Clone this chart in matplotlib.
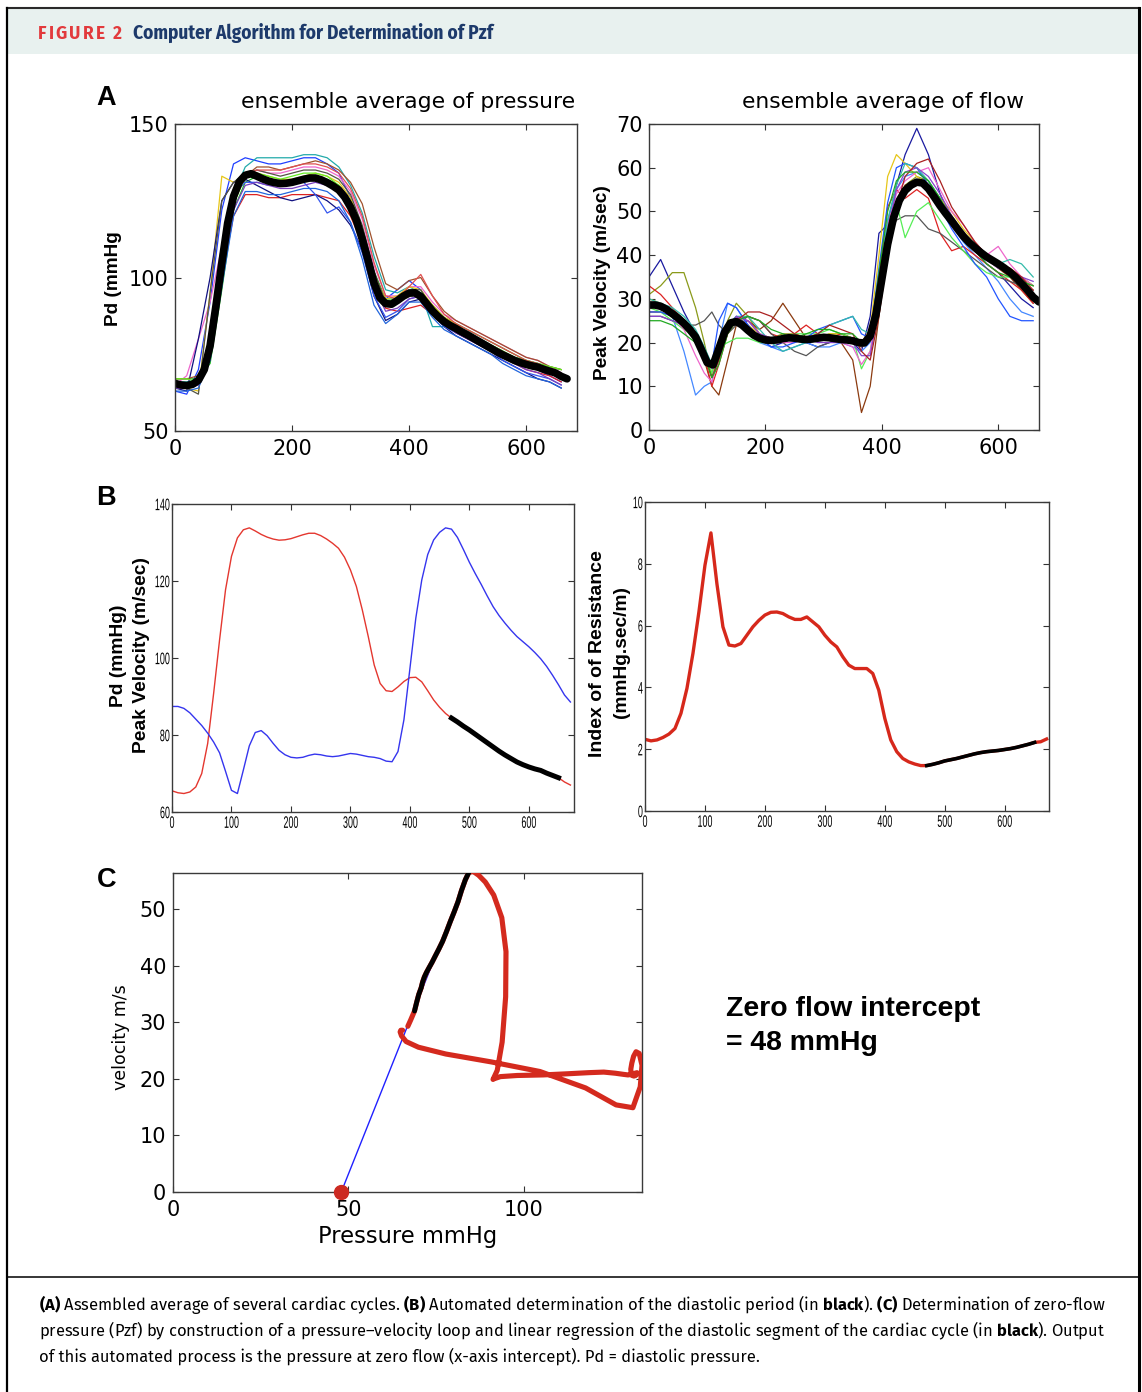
import numpy as np
import matplotlib
matplotlib.use("Agg")
import matplotlib.pyplot as plt
from matplotlib import font_manager
from matplotlib.patches import Rectangle
from matplotlib.lines import Line2D
from matplotlib.patheffects import AbstractPathEffect
from matplotlib.transforms import Affine2D

# ---------------------------------------------------------------- data
# ensemble averages sampled every 10 ms (0 .. 670)
time_mean = list(range(0, 680, 10))
pressure_mean = [65.5, 65.0, 64.8, 65.2, 66.5, 70.0, 77.8, 90.8, 104.7, 117.7,
                 126.4, 131.2, 133.3, 133.8, 133.0, 132.1, 131.4, 130.9, 130.6, 130.7,
                 131.0, 131.5, 132.0, 132.4, 132.4, 131.8, 130.9, 129.8, 128.5, 126.2,
                 122.9, 118.6, 112.5, 105.6, 98.2, 93.4, 91.5, 91.3, 92.5, 93.9,
                 94.9, 95.0, 93.8, 91.5, 89.1, 87.2, 85.6, 84.4, 83.4, 82.3,
                 81.3, 80.2, 79.1, 78.0, 76.9, 75.8, 74.8, 73.9, 73.0, 72.3,
                 71.7, 71.2, 70.8, 70.1, 69.5, 68.9, 67.8, 67.0]
velocity_mean = [28.6, 28.6, 28.3, 27.6, 26.6, 25.6, 24.4, 23.0, 21.3, 18.4,
                 15.4, 14.9, 18.6, 22.4, 24.5, 24.8, 24.0, 22.8, 21.7, 21.0,
                 20.6, 20.5, 20.6, 20.9, 21.1, 21.0, 20.8, 20.7, 20.8, 21.0,
                 21.2, 21.1, 20.9, 20.7, 20.6, 20.4, 20.0, 19.9, 21.5, 26.5,
                 34.5, 42.5, 48.5, 52.5, 54.8, 56.0, 56.7, 56.5, 55.2, 53.3,
                 51.3, 49.5, 47.8, 46.0, 44.3, 42.9, 41.7, 40.6, 39.6, 38.8,
                 38.0, 37.1, 36.1, 34.9, 33.5, 32.0, 30.4, 29.3]
resistance = [2.32, 2.27, 2.30, 2.38, 2.49, 2.67, 3.16, 3.97, 5.10, 6.45,
              7.95, 9.00, 7.35, 5.96, 5.37, 5.34, 5.42, 5.69, 5.96, 6.17,
              6.34, 6.43, 6.44, 6.39, 6.28, 6.20, 6.20, 6.28, 6.12, 5.96,
              5.69, 5.47, 5.31, 4.99, 4.72, 4.61, 4.61, 4.61, 4.45, 3.91,
              3.00, 2.30, 1.92, 1.70, 1.59, 1.52, 1.47, 1.47, 1.51, 1.56,
              1.62, 1.66, 1.70, 1.75, 1.80, 1.85, 1.89, 1.92, 1.94, 1.96,
              1.99, 2.02, 2.06, 2.11, 2.16, 2.22, 2.24, 2.33]

# individual cardiac cycles (pressure), sampled every 20 ms (0 .. 660)
time_p_traces = list(range(0, 680, 20))
pressure_traces = [
    [63, 62, 70, 92, 122, 137, 139, 138, 137, 137, 138, 139, 139, 137, 134, 126, 114, 99, 93, 96, 99, 96, 90, 86, 84, 82, 80, 77, 75, 73, 71, 70, 68, 66],
    [67, 67, 67, 72, 96, 122, 131, 133, 132, 131, 131, 132, 133, 132, 130, 125, 116, 102, 93, 93, 96, 95, 91, 87, 85, 83, 81, 79, 77, 75, 73, 72, 71, 70],
    [64, 64, 65, 75, 100, 120, 127, 127, 126, 126, 127, 127, 127, 126, 125, 120, 111, 97, 90, 89, 90, 91, 88, 85, 82, 80, 78, 76, 74, 72, 70, 69, 68, 66],
    [66, 66, 67, 76, 103, 127, 136, 139, 139, 139, 139, 140, 140, 139, 136, 130, 121, 107, 96, 95, 97, 95, 84, 84, 83, 82, 80, 78, 76, 74, 73, 72, 70, 68],
    [65, 68, 80, 92, 110, 128, 134, 135, 134, 134, 135, 136, 136, 135, 133, 128, 119, 104, 94, 94, 97, 97, 92, 88, 86, 84, 82, 80, 78, 76, 74, 73, 71, 69],
    [65, 64, 63, 95, 133, 131, 133, 134, 133, 132, 132, 133, 134, 133, 131, 126, 116, 101, 93, 94, 97, 96, 91, 87, 85, 82, 80, 78, 76, 74, 72, 71, 70, 68],
    [64, 63, 80, 100, 125, 131, 132, 130, 128, 126, 125, 126, 127, 125, 122, 117, 109, 94, 86, 88, 92, 93, 88, 84, 81, 79, 77, 75, 73, 71, 69, 67, 66, 64],
    [66, 65, 66, 80, 108, 127, 131, 131, 130, 130, 131, 131, 127, 121, 123, 118, 108, 94, 87, 89, 93, 94, 88, 84, 82, 80, 78, 76, 73, 71, 69, 68, 67, 65],
    [66, 64, 62, 95, 125, 131, 134, 135, 134, 133, 134, 135, 135, 134, 132, 127, 117, 102, 92, 93, 96, 96, 90, 86, 84, 82, 80, 78, 76, 74, 72, 71, 69, 67],
    [64, 64, 65, 74, 100, 122, 130, 131, 130, 129, 129, 130, 131, 130, 128, 122, 112, 97, 89, 90, 93, 94, 89, 85, 82, 80, 78, 76, 74, 72, 70, 69, 67, 65],
    [67, 67, 68, 76, 101, 124, 133, 136, 136, 135, 136, 137, 138, 137, 135, 131, 124, 110, 98, 96, 99, 100, 94, 89, 86, 84, 82, 80, 78, 76, 74, 73, 71, 70],
    [67, 67, 66, 74, 99, 124, 133, 134, 133, 132, 133, 134, 134, 133, 130, 124, 113, 99, 92, 93, 95, 95, 90, 86, 84, 82, 80, 78, 76, 74, 73, 72, 71, 70],
    [63, 63, 64, 73, 97, 120, 128, 128, 127, 127, 128, 129, 129, 128, 125, 118, 106, 91, 85, 88, 92, 92, 87, 83, 81, 79, 77, 75, 72, 70, 68, 67, 66, 64],
    [65, 65, 66, 78, 104, 126, 133, 135, 135, 135, 136, 137, 137, 136, 134, 129, 120, 105, 94, 93, 97, 101, 94, 88, 85, 83, 81, 79, 77, 75, 73, 72, 70, 68],
]
pressure_trace_colors = ['#1f3fff', '#22bb22', '#dd2222', '#22aaaa', '#ee66cc', '#e6c619', '#101080',
                         '#3355ee', '#555544', '#7a3fbf', '#a0522d', '#66ee22', '#2266dd', '#e05050']

# individual cardiac cycles (velocity)
time_v_traces = [0, 20, 40, 60, 80, 95, 108, 120, 135, 150, 170, 190, 210, 230, 250, 270, 290, 310, 330,
                 350, 365, 380, 395, 410, 425, 440, 460, 480, 500, 520, 540, 560, 580, 600, 620, 640, 660]
velocity_traces = [
    [35, 39, 33, 27, 22, 18, 12, 17, 24, 26, 24, 21, 19, 20, 21, 20, 19, 20, 21, 20, 18, 26, 45, 47, 56, 63, 69, 63, 54, 48, 44, 41, 38, 36, 33, 30, 28],
    [31, 33, 36, 36, 28, 20, 12, 16, 25, 29, 26, 22, 21, 22, 22, 21, 21, 22, 22, 21, 20, 22, 32, 45, 52, 56, 58, 57, 53, 49, 45, 42, 40, 38, 37, 35, 33],
    [27, 27, 26, 24, 21, 16, 10, 8, 16, 24, 25, 23, 25, 29, 25, 21, 22, 21, 20, 16, 4, 10, 26, 42, 52, 56, 57, 56, 52, 47, 44, 41, 39, 37, 35, 32, 29],
    [29, 28, 26, 18, 8, 10, 11, 20, 29, 28, 24, 20, 19, 18, 19, 20, 19, 19, 20, 19, 18, 20, 34, 48, 55, 58, 59, 57, 52, 47, 43, 40, 37, 34, 30, 27, 26],
    [30, 29, 27, 25, 22, 18, 13, 17, 23, 25, 24, 22, 21, 21, 22, 21, 21, 22, 22, 21, 20, 23, 40, 58, 63, 61, 58, 56, 53, 50, 46, 43, 40, 38, 37, 35, 33],
    [33, 31, 28, 25, 22, 17, 10, 15, 22, 25, 26, 25, 22, 21, 22, 24, 22, 21, 22, 21, 19, 22, 35, 51, 55, 53, 55, 53, 45, 41, 42, 40, 38, 36, 34, 32, 29],
    [26, 26, 25, 24, 24, 25, 27, 24, 22, 24, 26, 25, 22, 20, 18, 17, 19, 20, 21, 20, 19, 21, 33, 44, 48, 49, 49, 46, 45, 43, 41, 39, 37, 35, 34, 33, 32],
    [28, 27, 25, 23, 21, 18, 13, 19, 20, 21, 21, 20, 20, 21, 22, 22, 22, 23, 22, 21, 14, 18, 30, 46, 52, 44, 50, 52, 48, 44, 41, 38, 36, 35, 35, 34, 33],
    [29, 28, 26, 23, 17, 13, 11, 16, 23, 26, 25, 22, 21, 20, 20, 21, 21, 21, 20, 19, 15, 18, 30, 47, 54, 57, 59, 60, 55, 50, 47, 43, 40, 42, 38, 35, 33],
    [27, 27, 26, 25, 22, 18, 15, 25, 29, 28, 24, 21, 19, 19, 20, 21, 23, 24, 25, 26, 22, 21, 37, 52, 60, 61, 60, 56, 51, 46, 42, 38, 35, 30, 26, 25, 25],
    [30, 29, 28, 26, 23, 19, 15, 18, 24, 26, 26, 23, 20, 18, 19, 20, 22, 24, 25, 26, 23, 22, 33, 48, 56, 61, 60, 57, 53, 48, 44, 41, 39, 38, 39, 38, 35],
    [26, 26, 25, 24, 22, 18, 14, 17, 23, 26, 25, 22, 21, 21, 21, 21, 20, 20, 20, 20, 17, 17, 28, 45, 55, 59, 60, 58, 54, 49, 45, 42, 39, 37, 36, 35, 34],
    [28, 28, 27, 25, 22, 17, 12, 16, 22, 25, 27, 27, 26, 24, 22, 21, 22, 24, 23, 22, 18, 16, 26, 40, 51, 58, 61, 62, 57, 51, 47, 43, 40, 38, 37, 35, 32],
    [25, 25, 24, 22, 20, 17, 12, 15, 22, 25, 26, 25, 23, 22, 21, 22, 23, 23, 22, 22, 20, 21, 36, 50, 57, 59, 59, 57, 53, 48, 44, 41, 38, 36, 35, 34, 33],
]
velocity_trace_colors = ['#1a1aa0', '#8a9a1a', '#8b3a0f', '#4488ff', '#e6c619', '#dd2222', '#555555',
                         '#55ee55', '#ee66cc', '#2255ff', '#33bbaa', '#8844cc', '#aa2020', '#22aa22']

diastole = (470, 650)        # automatically detected diastolic window (ms)
pzf = 48                     # zero-flow pressure (mmHg)

# ---------------------------------------------------------------- fonts
installed = {f.name for f in font_manager.fontManager.ttflist}


def pick(*names):
    for n in names:
        if n in installed:
            return n
    return 'DejaVu Sans'


ARIAL = pick('Liberation Sans', 'Arimo')
CAPTION = pick('Fira Sans', 'Roboto', 'Open Sans')
HEAD = pick('Fira Sans Condensed', 'Roboto', 'Noto Sans')
plt.rcParams['mathtext.fontset'] = 'custom'
plt.rcParams['mathtext.rm'] = CAPTION
plt.rcParams['mathtext.bf'] = CAPTION + ':bold'
plt.rcParams['mathtext.it'] = CAPTION + ':italic'


class Stretch(AbstractPathEffect):
    """Draw text glyphs scaled (tall / narrow like the MATLAB export)."""

    def __init__(self, sx, sy, hx, hy):
        super().__init__()
        self.sx, self.sy, self.hx, self.hy = sx, sy, hx, hy

    def draw_path(self, renderer, gc, tpath, affine, rgbFace=None):
        ext = tpath.get_extents(affine)
        x0 = (ext.x0 + ext.x1) / 2 if self.hx == 'center' else ext.x1
        y0 = (ext.y0 + ext.y1) / 2 if self.hy == 'center' else ext.y1
        tr = affine + Affine2D().translate(-x0, -y0).scale(self.sx, self.sy).translate(x0, y0)
        renderer.draw_path(gc, tpath, tr, rgbFace)


# ---------------------------------------------------------------- figure
W, H = 1142, 1392
fig = plt.figure(figsize=(W / 100, H / 100), dpi=100)
fig.patch.set_facecolor('white')
renderer = fig.canvas.get_renderer()


def fx(x):
    return x / W


def fy(y):
    return 1 - y / H


def ftext(x, y, s, target=None, **kw):
    t = fig.text(fx(x), fy(y), s, **kw)
    if target:
        bb = t.get_window_extent(renderer)
        rot = kw.get('rotation', 0)
        size = bb.height if rot == 90 else bb.width
        t.set_fontsize(t.get_fontsize() * target / size)
    return t


def add_ax(x0, y0, x1, y1):
    return fig.add_axes([fx(x0), fy(y1), (x1 - x0) / W, (y1 - y0) / H])


def style(ax, family, size, padx, pady, length):
    ax.tick_params(direction='in', top=True, right=True, length=length, width=0.8,
                   color='#333333', labelsize=size, labelfontfamily=family)
    ax.tick_params(axis='x', pad=padx)
    ax.tick_params(axis='y', pad=pady)
    for s in ax.spines.values():
        s.set_color('#3a3a3a')
        s.set_linewidth(1.0)


def squeeze_ticks(ax):
    for tk in ax.xaxis.get_major_ticks():
        tk.label1.set_path_effects([Stretch(0.86, 1.6, 'center', 'top')])
    for tk in ax.yaxis.get_major_ticks():
        tk.label1.set_path_effects([Stretch(0.86, 1.6, 'right', 'center')])


# frame / header
fig.add_artist(Rectangle((fx(8), fy(54)), (1138 - 8) / W, (54 - 9) / H, transform=fig.transFigure,
                         facecolor='#e8f1ef', edgecolor='none', zorder=0))
fig.add_artist(Line2D([fx(7), fx(1139)], [fy(8), fy(8)], transform=fig.transFigure, color='#2a2a2a', lw=1.5))
fig.add_artist(Line2D([fx(7), fx(7)], [fy(8), 0], transform=fig.transFigure, color='black', lw=1.6))
fig.add_artist(Line2D([fx(1138.5), fx(1138.5)], [fy(8), 0], transform=fig.transFigure, color='black', lw=2.2))
fig.add_artist(Line2D([fx(7), fx(1139)], [fy(1277), fy(1277)], transform=fig.transFigure, color='black', lw=1.1))

# "FIGURE 2" with letter spacing
head_chars = list("FIGURE 2")
HSIZE = 12.5
tmp = [fig.text(0, 0, c if c != ' ' else 'a', fontsize=HSIZE, family=CAPTION, weight='bold') for c in head_chars]
widths = [t.get_window_extent(renderer).width for t in tmp]
for t in tmp:
    t.remove()
widths = [w * (0.45 if c == ' ' else 1) for w, c in zip(widths, head_chars)]
gap = (84 - sum(widths)) / (len(head_chars) - 1)
xc = 38
for c, w in zip(head_chars, widths):
    if c != ' ':
        ftext(xc, 39, c, fontsize=HSIZE, family=CAPTION, weight='bold', color='#e23a3c', va='baseline')
    xc += w + gap
ftext(133, 39, 'Computer Algorithm for Determination of Pzf', target=361, fontsize=11,
      family=HEAD, weight='bold', color='#1d3a6b', va='baseline')

t_m = np.array(time_mean)
p_m = np.array(pressure_mean)
v_m = np.array(velocity_mean)
r_m = np.array(resistance)
dmask = (t_m >= diastole[0]) & (t_m <= diastole[1])

# ---------------------------------------------------------------- panel A left
ax = add_ax(175, 124, 577, 431)
for tr, c in zip(pressure_traces, pressure_trace_colors):
    ax.plot(time_p_traces, tr, color=c, lw=0.9)
ax.plot(t_m, p_m, color='black', lw=5.5, solid_capstyle='round')
ax.set_xlim(0, 687)
ax.set_ylim(50, 150)
ax.set_xticks([0, 200, 400, 600])
ax.set_yticks([50, 100, 150])
style(ax, 'DejaVu Sans', 15, 5.5, 4.5, 4)

# ---------------------------------------------------------------- panel A right
ax = add_ax(649, 124, 1039, 430)
for tr, c in zip(velocity_traces, velocity_trace_colors):
    ax.plot(time_v_traces, tr, color=c, lw=0.9)
ax.plot(t_m, v_m, color='black', lw=5.5, solid_capstyle='round')
ax.set_xlim(0, 670)
ax.set_ylim(0, 70)
ax.set_xticks([0, 200, 400, 600])
ax.set_yticks(range(0, 71, 10))
style(ax, 'DejaVu Sans', 15, 5.5, 4.5, 4)

# ---------------------------------------------------------------- panel B left
BSIZE = 7.5
ax = add_ax(172, 504, 574, 812)
pmin, pmax = p_m.min(), p_m.max()
v_scaled = pmin + (v_m - v_m.min()) / (v_m.max() - v_m.min()) * (pmax - pmin)
ax.plot(t_m, p_m, color='#e4372f', lw=1.0)
ax.plot(t_m, v_scaled, color='#3535ee', lw=1.0)
ax.plot(t_m[dmask], p_m[dmask], color='black', lw=3.6)
ax.set_xlim(0, 676)
ax.set_ylim(60, 140)
ax.set_xticks(range(0, 601, 100))
ax.set_yticks(range(60, 141, 20))
style(ax, ARIAL, BSIZE, 2.5, 1.5, 4.5)
squeeze_ticks(ax)

# ---------------------------------------------------------------- panel B right
ax = add_ax(645, 502, 1049, 811)
ax.plot(t_m, r_m, color='#d6281b', lw=2.4)
ax.plot(t_m[dmask], r_m[dmask], color='black', lw=2.6)
ax.set_xlim(0, 674)
ax.set_ylim(0, 10)
ax.set_xticks(range(0, 601, 100))
ax.set_yticks(range(0, 11, 2))
style(ax, ARIAL, BSIZE, 2.5, 1.5, 4.5)
squeeze_ticks(ax)

# ---------------------------------------------------------------- panel C
ax = add_ax(173, 873, 642, 1192)
i0 = np.argmax(dmask)
ax.plot([pzf, p_m[i0]], [0, v_m[i0]], color='#2020ff', lw=1.0, zorder=2)
ax.plot(p_m, v_m, color='#d42a1e', lw=3.7, solid_capstyle='round', zorder=3)
ax.plot(p_m[dmask], v_m[dmask], color='black', lw=3.5, solid_capstyle='round', zorder=4)
ax.plot([pzf], [0], 'o', ms=10, color='#cc2a22', clip_on=False, zorder=5)
ax.set_xlim(0, p_m.max())
ax.set_ylim(0, v_m.max() - 0.3)
ax.set_xticks([0, 50, 100])
ax.set_yticks(range(0, 51, 10))
style(ax, 'DejaVu Sans', 15, 5.5, 5, 4)

# ---------------------------------------------------------------- text
for lab, x, y in (('A', 96.5, 105), ('B', 96.5, 505), ('C', 97, 887)):
    ftext(x, y, lab, family=ARIAL, weight='bold', fontsize=19.5, va='baseline')

ftext(240.7, 108, 'ensemble average of pressure', target=334, family='DejaVu Sans', fontsize=15.8, va='baseline')
ftext(741.7, 108, 'ensemble average of flow', target=283, family='DejaVu Sans', fontsize=15.8, va='baseline')

ylab = dict(rotation=90, ha='center', va='center', family=ARIAL, weight='bold', fontsize=14)
ftext(114, 279, 'Pd (mmHg', target=95, **ylab)
ftext(602.5, 282.5, 'Peak Velocity (m/sec)', target=195, **ylab)
ftext(118.2, 655.3, 'Pd (mmHg)', target=103, **ylab)
ftext(141.5, 655.3, 'Peak Velocity (m/sec)', target=196, **ylab)
ftext(597.5, 653.3, 'Index of of Resistance', target=207, **ylab)
ftext(621.7, 652.5, '(mmHg.sec/m)', target=132, **ylab)
ftext(121, 1037, 'velocity m/s', target=105, rotation=90, ha='center', va='center',
      family='DejaVu Sans', fontsize=13)
ftext(407.5, 1237, 'Pressure mmHg', target=179, ha='center', va='center', family='DejaVu Sans', fontsize=14)

zt = ftext(726, 1016, 'Zero flow intercept', target=254, family=ARIAL, weight='bold', fontsize=20, va='baseline')
ftext(726, 1050, f'= {pzf} mmHg', family=ARIAL, weight='bold', fontsize=zt.get_fontsize(), va='baseline')

L1 = (r"$\mathbf{(A)}$ Assembled average of several cardiac cycles. $\mathbf{(B)}$ Automated determination "
      r"of the diastolic period (in $\mathbf{black}$). $\mathbf{(C)}$ Determination of zero-flow")
L2 = (r"pressure (Pzf) by construction of a pressure–velocity loop and linear regression of the diastolic "
      r"segment of the cardiac cycle (in $\mathbf{black}$). Output")
L3 = r"of this automated process is the pressure at zero flow (x-axis intercept). Pd = diastolic pressure."
c1 = ftext(39, 1310.5, L1, target=1067, family=CAPTION, fontsize=11, va='baseline')
ftext(39, 1336.5, L2, target=1067, family=CAPTION, fontsize=11, va='baseline')
ftext(39, 1362, L3, family=CAPTION, fontsize=c1.get_fontsize(), va='baseline')

fig.savefig('out.png', dpi=100)
